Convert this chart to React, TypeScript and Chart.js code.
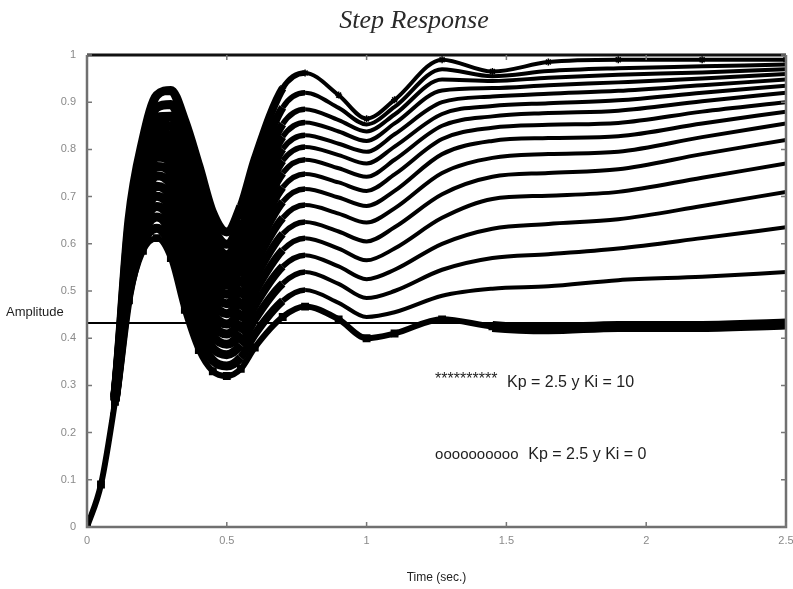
import React, { useEffect, useRef } from 'react';
import { Chart, registerables } from 'chart.js';

Chart.register(...registerables);

// ---- data ----
const TIME = [0, 0.05, 0.1, 0.15, 0.2, 0.25, 0.3, 0.35, 0.4, 0.45, 0.5, 0.55, 0.6, 0.7, 0.78, 0.9, 1.0, 1.1, 1.27, 1.45, 1.65, 1.9, 2.2, 2.5];

// Ki = 0 (marked "oooooooooo")
const CURVE_00 = [0, .09, .265, .48, .585, .612, .57, .46, .375, .33, .32, .335, .38, .445, .467, .44, .40, .41, .44, .425, .42, .425, .425, .43];
const CURVE_01 = [0, .09, .266, .492, .601, .633, .595, .488, .402, .353, .341, .359, .408, .479, .502, .475, .445, .455, .49, .505, .51, .523, .53, .54];
const CURVE_02 = [0, .09, .267, .505, .62, .657, .622, .519, .432, .379, .365, .386, .439, .516, .54, .515, .485, .50, .545, .57, .578, .59, .612, .635];
const CURVE_03 = [0, .09, .268, .517, .637, .679, .648, .548, .461, .404, .387, .411, .468, .552, .576, .552, .525, .545, .60, .632, .642, .652, .68, .71];
const CURVE_04 = [0, .09, .269, .53, .654, .701, .674, .577, .489, .428, .409, .436, .497, .587, .612, .59, .565, .59, .655, .695, .702, .71, .74, .77];
const CURVE_05 = [0, .09, .27, .542, .67, .722, .699, .605, .516, .451, .43, .46, .525, .621, .646, .626, .605, .635, .705, .742, .75, .758, .79, .82];
const CURVE_06 = [0, .09, .272, .554, .687, .744, .724, .634, .544, .475, .452, .485, .554, .655, .682, .664, .645, .675, .75, .782, .79, .795, .826, .855];
const CURVE_07 = [0, .09, .273, .566, .703, .764, .749, .661, .571, .499, .473, .509, .581, .689, .716, .698, .68, .712, .79, .818, .824, .828, .855, .88];
const CURVE_08 = [0, .09, .274, .577, .718, .784, .772, .687, .597, .52, .493, .531, .607, .72, .748, .73, .712, .747, .822, .846, .852, .856, .88, .90];
const CURVE_09 = [0, .09, .274, .587, .733, .802, .793, .711, .62, .54, .512, .552, .631, .75, .778, .76, .742, .778, .85, .87, .877, .882, .902, .92];
const CURVE_10 = [0, .09, .275, .596, .746, .819, .812, .733, .641, .559, .528, .571, .653, .776, .805, .788, .77, .806, .875, .892, .898, .904, .92, .935];
const CURVE_11 = [0, .09, .276, .605, .757, .834, .83, .753, .661, .576, .544, .588, .673, .801, .83, .812, .795, .832, .90, .912, .918, .924, .936, .948];
const CURVE_12 = [0, .09, .277, .614, .77, .851, .85, .775, .682, .594, .56, .607, .695, .827, .857, .838, .818, .855, .925, .93, .936, .942, .95, .96];
const CURVE_13 = [0, .09, .278, .623, .783, .868, .87, .798, .704, .613, .577, .626, .718, .854, .885, .862, .838, .874, .948, .945, .952, .958, .963, .97];
const CURVE_14 = [0, .09, .279, .636, .80, .889, .895, .826, .732, .637, .599, .651, .746, .889, .92, .888, .853, .89, .97, .955, .966, .972, .976, .98];
// Ki = 10 (marked "**********")
const CURVE_15 = [0, .09, .28, .65, .82, .915, .925, .86, .765, .665, .625, .68, .78, .93, .962, .915, .865, .905, .99, .965, .985, .99, .99, .99];

const CURVES = [CURVE_00, CURVE_01, CURVE_02, CURVE_03, CURVE_04, CURVE_05, CURVE_06, CURVE_07, CURVE_08, CURVE_09, CURVE_10, CURVE_11, CURVE_12, CURVE_13, CURVE_14, CURVE_15];

const REF_LEVEL = 0.432;
const X_RANGE = [0, 2.5];
const Y_RANGE = [0, 1];
const X_STEP = 0.5;
const Y_STEP = 0.1;

const TITLE = 'Step Response';
const X_TITLE = 'Time (sec.)';
const Y_TITLE = 'Amplitude';
const NOTE_1_MARK = '**********';
const NOTE_1_TEXT = 'Kp = 2.5 y Ki = 10';
const NOTE_2_MARK = 'oooooooooo';
const NOTE_2_TEXT = 'Kp = 2.5 y Ki = 0';

const decorPlugin = {
  id: 'decor',
  afterDraw(chart: any) {
    const { ctx, chartArea: a, scales } = chart;
    const xs = scales.x;
    const ys = scales.y;
    ctx.save();
    // frame
    ctx.strokeStyle = '#707070';
    ctx.lineWidth = 2.5;
    ctx.beginPath();
    ctx.moveTo(a.left, a.top);
    ctx.lineTo(a.left, a.bottom);
    ctx.lineTo(a.right, a.bottom);
    ctx.lineTo(a.right, a.top);
    ctx.stroke();
    ctx.strokeStyle = '#111';
    ctx.lineWidth = 3;
    ctx.beginPath();
    ctx.moveTo(a.left, a.top);
    ctx.lineTo(a.right, a.top);
    ctx.stroke();
    // inward ticks
    ctx.strokeStyle = '#777';
    ctx.lineWidth = 1.5;
    ctx.beginPath();
    ys.ticks.forEach((t: any) => {
      const py = ys.getPixelForValue(t.value);
      ctx.moveTo(a.left, py); ctx.lineTo(a.left + 5, py);
      ctx.moveTo(a.right, py); ctx.lineTo(a.right - 5, py);
    });
    xs.ticks.forEach((t: any) => {
      const px = xs.getPixelForValue(t.value);
      ctx.moveTo(px, a.bottom); ctx.lineTo(px, a.bottom - 5);
      ctx.moveTo(px, a.top); ctx.lineTo(px, a.top + 5);
    });
    ctx.stroke();

    // title
    ctx.fillStyle = '#2a2a2a';
    ctx.font = 'italic 26px "Liberation Serif", serif';
    ctx.textAlign = 'center';
    ctx.textBaseline = 'middle';
    ctx.fillText(TITLE, 414, 21);

    // y title (horizontal)
    ctx.fillStyle = '#1e1e1e';
    ctx.font = '13px "Liberation Sans", Arial, sans-serif';
    ctx.textAlign = 'left';
    ctx.fillText(Y_TITLE, 6, ys.getPixelForValue(0.455));

    // annotations placed in data coordinates
    ctx.font = '16px "Liberation Sans", Arial, sans-serif';
    const y1 = ys.getPixelForValue(0.305);
    const y2 = ys.getPixelForValue(0.153);
    ctx.fillText(NOTE_1_MARK, xs.getPixelForValue(1.245), y1 - 3);
    ctx.fillText(NOTE_1_TEXT, xs.getPixelForValue(1.502), y1);
    ctx.font = '15px "Liberation Sans", Arial, sans-serif';
    ctx.fillText(NOTE_2_MARK, xs.getPixelForValue(1.245), y2);
    ctx.font = '16px "Liberation Sans", Arial, sans-serif';
    ctx.fillText(NOTE_2_TEXT, xs.getPixelForValue(1.578), y2);
    ctx.restore();
  },
};

export default function App() {
  const ref = useRef<HTMLCanvasElement | null>(null);
  useEffect(() => {
    if (!ref.current) return;
    const datasets: any[] = CURVES.map((vals, k) => {
      const isBottom = k === 0;
      const isTop = k === CURVES.length - 1;
      return {
        label: isBottom ? NOTE_2_TEXT : isTop ? NOTE_1_TEXT : `curve ${k}`,
        data: TIME.map((t, i) => ({ x: t, y: vals[i] })),
        borderColor: '#000',
        backgroundColor: '#000',
        borderWidth: isBottom ? 6 : 4,
        segment: {
          borderWidth: (c: any) => {
            const x0 = c.p0.parsed.x;
            if (isBottom) return x0 >= 1.4 ? 11 : 6;
            if (x0 < 0.1) return 4;
            if (x0 < 0.55) return 9;
            if (x0 < 0.7) return 8;
            if (x0 < 0.78) return 5.5;
            return 4;
          },
        },
        pointRadius: isBottom ? 4.5 : isTop ? 3.5 : 0,
        pointStyle: isBottom ? 'rect' : 'star',
        pointBorderWidth: 1.5,
        cubicInterpolationMode: 'monotone',
        fill: false,
      };
    });
    datasets.push({
      label: 'reference',
      data: [{ x: X_RANGE[0], y: REF_LEVEL }, { x: X_RANGE[1], y: REF_LEVEL }],
      borderColor: '#000',
      borderWidth: 2,
      pointRadius: 0,
      fill: false,
    });
    const chart = new Chart(ref.current, {
      type: 'line',
      data: { datasets },
      options: {
        animation: false,
        responsive: false,
        devicePixelRatio: 1,
        layout: { padding: { left: 0, right: 7, top: 55, bottom: 0 } },
        plugins: { legend: { display: false }, title: { display: false }, tooltip: { enabled: false } },
        scales: {
          x: {
            type: 'linear',
            min: X_RANGE[0],
            max: X_RANGE[1],
            grid: { display: false, drawTicks: false },
            border: { display: false },
            ticks: {
              stepSize: X_STEP,
              padding: 7,
              color: '#8a8a8a',
              font: { family: '"Liberation Sans", Arial, sans-serif', size: 11 },
              callback: (v: any) => String(Number(Number(v).toFixed(1))),
            },
            title: {
              display: true,
              text: X_TITLE,
              color: '#222',
              font: { family: '"Liberation Sans", Arial, sans-serif', size: 12 },
              padding: { top: 4, bottom: 4 },
            },
            afterFit: (s: any) => { s.height = 62; s.paddingLeft = 0; s.paddingRight = 0; },
          },
          y: {
            type: 'linear',
            min: Y_RANGE[0],
            max: Y_RANGE[1],
            grid: { display: false, drawTicks: false },
            border: { display: false },
            ticks: {
              stepSize: Y_STEP,
              padding: 11,
              color: '#8a8a8a',
              font: { family: '"Liberation Sans", Arial, sans-serif', size: 11 },
              callback: (v: any) => String(Number(Number(v).toFixed(1))),
            },
            afterFit: (s: any) => { s.width = 87; s.paddingTop = 0; s.paddingBottom = 0; },
          },
        },
      } as any,
      plugins: [decorPlugin],
    });
    return () => chart.destroy();
  }, []);
  return (
    <div style={{ position: 'absolute', left: 0, top: 0, width: 793, height: 589, background: '#fff' }}>
      <canvas ref={ref} width={793} height={589} style={{ display: 'block' }} />
    </div>
  );
}
